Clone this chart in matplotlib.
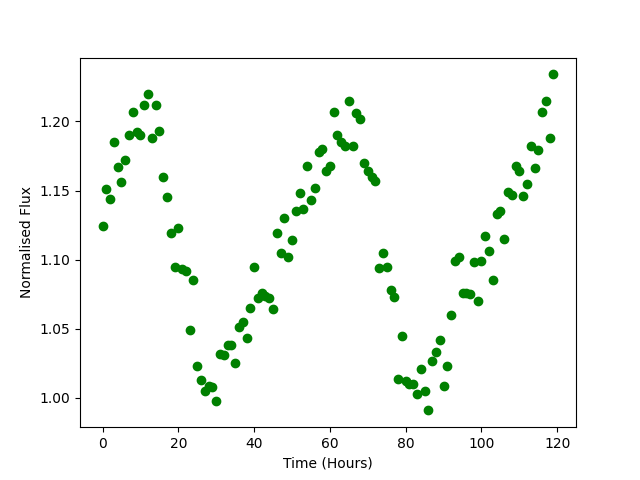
import matplotlib
matplotlib.use("Agg")
import matplotlib.pyplot as plt
import numpy as np

hours = np.arange(120)
flux = [1.124, 1.151, 1.144, 1.185, 1.167, 1.156, 1.172, 1.190, 1.207, 1.192,
        1.190, 1.212, 1.220, 1.188, 1.212, 1.193, 1.160, 1.145, 1.119, 1.095,
        1.123, 1.093, 1.092, 1.049, 1.085, 1.023, 1.013, 1.005, 1.009, 1.008,
        0.998, 1.032, 1.031, 1.038, 1.038, 1.025, 1.051, 1.055, 1.043, 1.065,
        1.095, 1.072, 1.076, 1.074, 1.072, 1.064, 1.119, 1.105, 1.130, 1.102,
        1.114, 1.135, 1.148, 1.137, 1.168, 1.143, 1.152, 1.178, 1.180, 1.164,
        1.168, 1.207, 1.190, 1.185, 1.182, 1.215, 1.182, 1.206, 1.202, 1.170,
        1.164, 1.160, 1.157, 1.094, 1.105, 1.095, 1.078, 1.073, 1.014, 1.045,
        1.012, 1.010, 1.010, 1.003, 1.021, 1.005, 0.991, 1.027, 1.033, 1.042,
        1.009, 1.023, 1.060, 1.099, 1.102, 1.076, 1.076, 1.075, 1.098, 1.070,
        1.099, 1.117, 1.106, 1.085, 1.133, 1.135, 1.115, 1.149, 1.147, 1.168,
        1.164, 1.146, 1.155, 1.182, 1.166, 1.179, 1.207, 1.215, 1.188, 1.234]

fig, ax = plt.subplots(figsize=(6.4, 4.8), dpi=100)
ax.plot(hours, flux, 'o', color='green')
ax.set_xlabel('Time (Hours)')
ax.set_ylabel('Normalised Flux')
fig.savefig('out.png')
